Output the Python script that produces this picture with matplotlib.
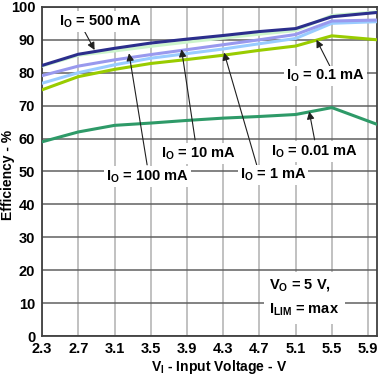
'''
efficiency vs input voltage for several output currents
'''
import numpy as np
import matplotlib
matplotlib.use('Agg')
import matplotlib.pyplot as plt

# input voltage sample points (V)
vin = [2.3, 2.7, 3.1, 3.5, 3.9, 4.3, 4.7, 5.1, 5.5, 6.0]

# efficiency (%) per output current
eff_500ma = [82.2, 85.6, 87.4, 89.0, 90.2, 91.3, 92.5, 93.4, 97.0, 98.3]
eff_100ma = [82.0, 85.3, 86.6, 88.0, 89.3, 90.5, 91.7, 92.8, 97.4, 98.5]
eff_10ma = [79.1, 82.0, 83.9, 85.5, 87.0, 88.5, 90.0, 91.6, 95.7, 96.0]
eff_1ma = [76.8, 80.0, 82.4, 84.4, 85.8, 87.2, 88.8, 90.4, 95.0, 95.5]
eff_01ma = [74.8, 78.8, 81.0, 82.8, 84.0, 85.3, 86.8, 88.1, 91.2, 90.0]
eff_001ma = [59.0, 62.0, 64.0, 64.7, 65.5, 66.2, 66.7, 67.3, 69.4, 64.3]

xticks = [2.3, 2.7, 3.1, 3.5, 3.9, 4.3, 4.7, 5.1, 5.5, 5.9]
yticks = list(range(0, 101, 10))

plt.rcParams['font.family'] = ['Liberation Sans', 'DejaVu Sans']
plt.rcParams['font.weight'] = 'bold'
FS = 10.5

fig = plt.figure(figsize=(3.86, 3.81), dpi=100)
ax = fig.add_axes([0.109, 0.118, 0.868, 0.864])

# grid: vertical lines light, horizontal darker
for x in xticks:
    ax.axvline(x, color='#b0b0b0', lw=1.1, zorder=1)
for y in yticks:
    ax.axhline(y, color='#606060', lw=1.1, zorder=1)

# series, bottom to top
ax.plot(vin, eff_001ma, color='#2e9a68', lw=2.2, zorder=3)
ax.plot(vin, eff_01ma, color='#99cc00', lw=2.2, zorder=3)
ax.plot(vin, eff_1ma, color='#99ccff', lw=2.2, zorder=3)
ax.plot(vin, eff_10ma, color='#9999ee', lw=2.2, zorder=3)
ax.plot(vin, eff_100ma, color='#ccf5cc', lw=2.2, zorder=3)
ax.plot(vin, eff_500ma, color='#2b2e8c', lw=2.2, zorder=3)

ax.set_xlim(2.3, 6.0)
ax.set_ylim(0, 100)
ax.set_xticks(xticks)
ax.set_xticklabels([f'{x:.1f}' for x in xticks], fontsize=FS, fontweight='bold')
ax.set_yticks(yticks)
ax.set_yticklabels([str(y) for y in yticks], fontsize=FS, fontweight='bold')
ax.tick_params(length=0, pad=5)
ax.tick_params(axis='x', pad=4)
for s in ax.spines.values():
    s.set_color('#404040')
    s.set_linewidth(1.3)

ax.set_ylabel('Efficiency - %', fontsize=10, fontweight='bold')
ax.yaxis.label.set_va('center')
ax.yaxis.set_label_coords(-0.103, 0.49)
ax.set_xlabel(r'V$_\mathregular{I}$ - Input Voltage - V', fontsize=10, fontweight='bold')
ax.xaxis.set_label_coords(0.527, -0.068)

# labels with arrows: (text, text pos, arrow tail, arrow tip)
labels = [
    ('500 mA', (2.94, 95.5), (2.76, 93.0), (2.88, 86.9)),
    ('100 mA', (3.46, 48.4), (3.46, 52.0), (3.26, 85.9)),
    ('10 mA', (4.03, 55.5), (3.99, 59.6), (3.84, 87.1)),
    ('1 mA', (4.85, 48.9), (4.67, 52.0), (4.31, 86.1)),
    ('0.1 mA', (5.43, 79.0), (5.48, 81.9), (5.33, 90.0)),
    ('0.01 mA', (5.31, 56.0), (5.31, 59.6), (5.25, 68.2)),
]
box = dict(facecolor='white', edgecolor='none', pad=1.5)
for txt, pos, tail, tip in labels:
    ax.annotate('', xy=tip, xytext=tail, zorder=5,
                arrowprops=dict(arrowstyle='-|>', color='#202020', lw=0.8,
                                mutation_scale=11, shrinkA=0, shrinkB=0))
    ax.text(pos[0], pos[1], r'I$_\mathregular{O}$ = ' + txt, fontsize=FS,
            fontweight='bold', ha='center', va='center', bbox=box, zorder=6)

ax.text(4.81, 11.5, 'V$_\\mathregular{O}$ = 5 V,\nI$_\\mathregular{LIM}$ = max',
        fontsize=FS, fontweight='bold', ha='left', va='center', linespacing=1.6,
        bbox=dict(facecolor='white', edgecolor='none', pad=4), zorder=6)

plt.savefig('out.png', dpi=100)
